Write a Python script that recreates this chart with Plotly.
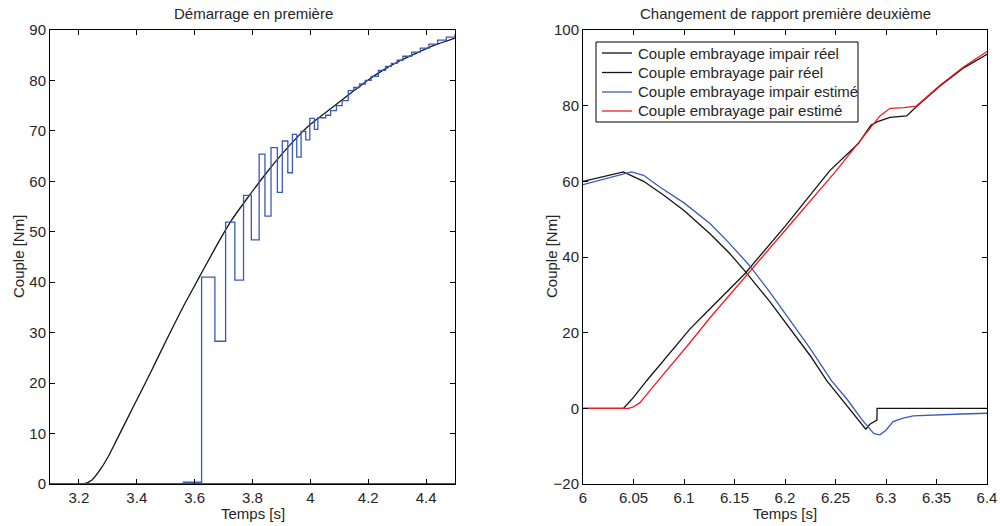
import plotly.graph_objects as go

# ---------------- Left chart data: "Démarrage en première" ----------------
left_t_black = [3.1, 3.215, 3.245, 3.273, 3.30, 3.330, 3.388, 3.446, 3.503, 3.561, 3.618,
                3.688, 3.729, 3.78, 3.85, 3.90, 3.964, 4.0, 4.079, 4.14, 4.195, 4.25,
                4.31, 4.37, 4.425, 4.5]
left_black = [0.0, 0.0, 0.8, 2.8, 5.3, 8.7, 15.3, 21.9, 28.6, 35.2, 41.2,
              48.5, 52.4, 56.5, 61.8, 65.3, 69.3, 71.3, 74.8, 77.5, 79.9, 82.0,
              83.9, 85.5, 86.9, 88.4]

left_t_blue = [3.1, 3.561, 3.624, 3.670, 3.707, 3.739, 3.769, 3.796, 3.823, 3.843, 3.864,
               3.886, 3.903, 3.922, 3.938, 3.953, 3.968, 3.984, 3.998, 4.014, 4.026,
               4.053, 4.07, 4.09, 4.11, 4.131, 4.15, 4.17, 4.19, 4.21, 4.235, 4.26,
               4.28, 4.30, 4.32, 4.35, 4.38, 4.41, 4.44, 4.47, 4.5]
left_blue = [0.0, 0.35, 41.0, 28.3, 51.9, 40.4, 57.2, 48.4, 65.4, 53.1, 66.7,
             57.8, 68.0, 61.7, 69.3, 64.8, 69.9, 68.2, 72.5, 70.3, 72.6,
             73.1, 74.0, 75.0, 76.0, 78.0, 78.6, 79.3, 80.0, 80.8, 82.0, 82.8,
             83.4, 84.0, 84.8, 85.6, 86.4, 87.2, 88.0, 88.6, 89.2]

left_t_red = [3.1, 4.5]
left_red = [0.0, 0.0]

left_xticks = [3.2, 3.4, 3.6, 3.8, 4.0, 4.2, 4.4]
left_xticktext = ["3.2", "3.4", "3.6", "3.8", "4", "4.2", "4.4"]
left_yticks = [0, 10, 20, 30, 40, 50, 60, 70, 80, 90]

# ---------------- Right chart data: "Changement de rapport" ----------------
r_t_impair_reel = [6.0, 6.02, 6.04, 6.06, 6.08, 6.1, 6.126, 6.145, 6.16, 6.185, 6.205,
                   6.225, 6.2413, 6.26, 6.280, 6.284, 6.291, 6.2912, 6.4]
r_impair_reel = [60.0, 61.2, 62.5, 60.0, 56.3, 52.3, 46.1, 41.0, 36.4, 28.2, 20.9,
                 13.9, 7.3, 1.0, -5.5, -4.2, -3.1, 0.0, 0.0]

r_t_pair_reel = [6.0, 6.04, 6.045, 6.05, 6.063, 6.08, 6.106, 6.126, 6.16, 6.2, 6.2446,
                 6.2726, 6.28, 6.285, 6.291, 6.304, 6.3205, 6.33, 6.3535, 6.377, 6.4]
r_pair_reel = [0.0, 0.0, 1.4, 2.9, 7.3, 12.6, 21.0, 26.4, 35.5, 48.1, 62.9,
               70.0, 72.8, 74.8, 75.7, 76.9, 77.3, 79.7, 85.2, 90.0, 93.6]

r_t_impair_est = [6.0, 6.02, 6.048, 6.06, 6.076, 6.1, 6.126, 6.145, 6.165, 6.185, 6.205,
                  6.225, 6.246, 6.262, 6.276, 6.283, 6.288, 6.294, 6.30, 6.307, 6.317,
                  6.327, 6.35, 6.375, 6.4]
r_impair_est = [59.1, 60.6, 62.5, 61.6, 58.5, 54.3, 48.8, 43.6, 37.7, 30.7, 23.2,
                15.8, 7.3, 2.2, -2.9, -5.2, -6.7, -7.0, -5.8, -3.5, -2.6,
                -2.0, -1.7, -1.5, -1.3]

r_t_pair_est = [6.0, 6.045, 6.05, 6.0564, 6.066, 6.08, 6.106, 6.126, 6.165, 6.2, 6.251,
                6.2726, 6.294, 6.304, 6.318, 6.33, 6.3535, 6.377, 6.4]
r_pair_est = [0.0, 0.0, 0.4, 1.5, 4.6, 9.0, 17.4, 24.0, 36.0, 47.0, 62.9,
              70.0, 77.3, 79.3, 79.5, 79.9, 85.4, 90.3, 94.3]

right_xticks = [6.0, 6.05, 6.1, 6.15, 6.2, 6.25, 6.3, 6.35, 6.4]
right_xticktext = ["6", "6.05", "6.1", "6.15", "6.2", "6.25", "6.3", "6.35", "6.4"]
right_yticks = [-20, 0, 20, 40, 60, 80, 100]

legend_names = ["Couple embrayage impair réel", "Couple embrayage pair réel",
                "Couple embrayage impair estimé", "Couple embrayage pair estimé"]

# ---------------- Styles ----------------
BLACK = "#141414"
BLUE = "#3a5bb5"
RED_L = "#c81f2a"
RED_R = "#f01c24"
FONT = "Liberation Sans, Arial, sans-serif"
FS = 15
LW = 1.3
legend_colors = [BLACK, BLACK, BLUE, RED_R]

fig = go.Figure()

# Left chart traces
fig.add_trace(go.Scatter(x=left_t_black, y=left_black, mode="lines",
                         line=dict(color=BLACK, width=LW, shape="spline", smoothing=0.6),
                         xaxis="x", yaxis="y", showlegend=False))
fig.add_trace(go.Scatter(x=left_t_blue, y=left_blue, mode="lines", line=dict(color=BLUE, width=LW, shape="hv"),
                         xaxis="x", yaxis="y", showlegend=False))
fig.add_trace(go.Scatter(x=left_t_red, y=left_red, mode="lines", line=dict(color=RED_L, width=2),
                         xaxis="x", yaxis="y", showlegend=False, cliponaxis=False))

# Right chart traces
right_series = [(r_t_impair_reel, r_impair_reel), (r_t_pair_reel, r_pair_reel),
                (r_t_impair_est, r_impair_est), (r_t_pair_est, r_pair_est)]
for (tx, vy), name, col in zip(right_series, legend_names, legend_colors):
    fig.add_trace(go.Scatter(x=tx, y=vy, mode="lines", name=name,
                             line=dict(color=col, width=LW), xaxis="x2", yaxis="y2",
                             showlegend=False))

W, H = 1000, 526
ydom = [1 - 484 / H, 1 - 30 / H]

axis_common = dict(showline=True, linecolor="black", linewidth=1, mirror="ticks",
                   ticks="inside", ticklen=5, tickcolor="black", tickwidth=1,
                   showgrid=False, zeroline=False, automargin=False,
                   tickfont=dict(family=FONT, size=FS, color="#262626"))

fig.update_layout(
    width=W, height=H,
    margin=dict(l=0, r=0, t=0, b=0, autoexpand=False),
    paper_bgcolor="white", plot_bgcolor="white",
    font=dict(family=FONT, size=FS, color="#262626"),
    xaxis=dict(domain=[50 / W, 455 / W], range=[3.1, 4.5], tickvals=left_xticks,
               ticktext=left_xticktext, anchor="y", **axis_common),
    yaxis=dict(domain=ydom, range=[0, 90], tickvals=left_yticks, anchor="x", **axis_common),
    xaxis2=dict(domain=[583 / W, 987 / W], range=[6.0, 6.4], tickvals=right_xticks,
                ticktext=right_xticktext, anchor="y2", **axis_common),
    yaxis2=dict(domain=ydom, range=[-20, 100], tickvals=right_yticks, anchor="x2", **axis_common),
    showlegend=False,
)

def px(x):
    return x / W

def py(y):
    return 1 - y / H

annotations = [
    dict(text="Démarrage en première", x=px(253), y=py(13)),
    dict(text="Changement de rapport première deuxième", x=px(785), y=py(13)),
    dict(text="Temps [s]", x=px(253), y=py(513)),
    dict(text="Temps [s]", x=px(785), y=py(513)),
    dict(text="Couple [Nm]", x=px(18), y=py(257), textangle=-90),
    dict(text="Couple [Nm]", x=px(551), y=py(257), textangle=-90),
]
for a in annotations:
    a.update(xref="paper", yref="paper", showarrow=False, xanchor="center",
             yanchor="middle", font=dict(family=FONT, size=FS, color="#262626"))

# Legend box (drawn inside the right axes, in paper coordinates)
shapes = [dict(type="rect", xref="paper", yref="paper", x0=px(596), x1=px(858),
               y0=py(122), y1=py(42), line=dict(color="black", width=1), fillcolor="white",
               layer="above")]
row_y = [53, 72.5, 92, 111]
for name, col, ry in zip(legend_names, legend_colors, row_y):
    shapes.append(dict(type="line", xref="paper", yref="paper", x0=px(602), x1=px(632),
                       y0=py(ry), y1=py(ry), line=dict(color=col, width=LW), layer="above"))
    annotations.append(dict(text=name, x=px(636), y=py(ry), xref="paper", yref="paper",
                            showarrow=False, xanchor="left", yanchor="middle",
                            font=dict(family=FONT, size=FS, color="#262626")))

fig.update_layout(annotations=annotations, shapes=shapes)

fig.write_html("out.html", config={"displayModeBar": False},
               post_script="document.body.style.margin='0px';")
